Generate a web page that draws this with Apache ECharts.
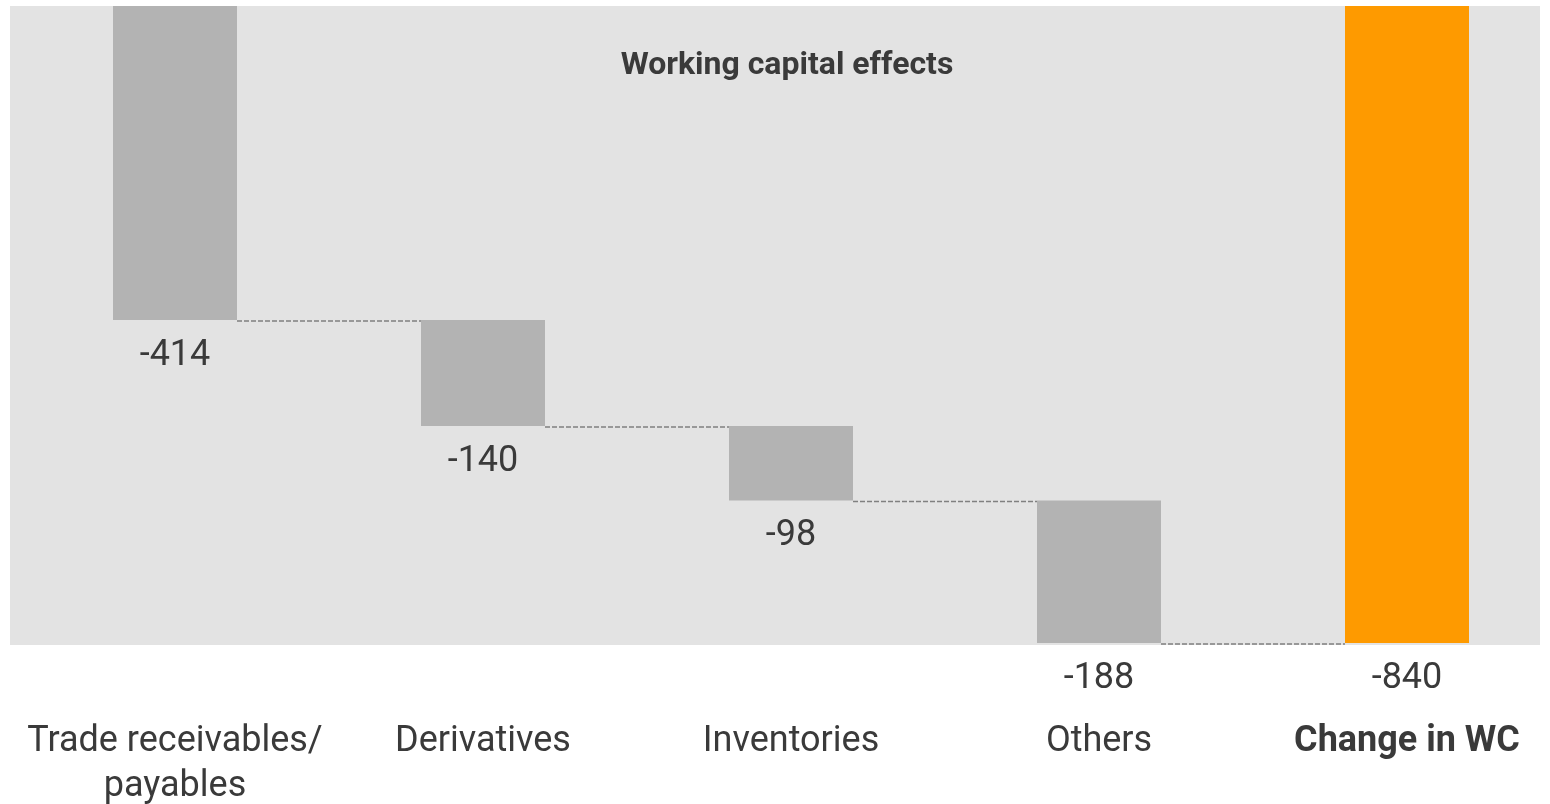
<!DOCTYPE html>
<html>
<head>
<meta charset="utf-8">
<title>Working capital effects</title>
<script src="https://cdn.jsdelivr.net/npm/echarts@6/dist/echarts.min.js"></script>
<style>
  html, body { margin: 0; padding: 0; background: #fff; }
  #myChart { width: 1550px; height: 804px; }
</style>
</head>
<body>
<div id="myChart"></div>
<script>
// data
var categories = ["Trade receivables/\npayables", "Derivatives", "Inventories", "Others", "Change in WC"];
var effects = [-414, -140, -98, -188];
var total = -840;

var BAR_W = 124;
var FONT = "Roboto, 'Noto Sans', sans-serif";
var TEXT = "#3a3a3a";

// waterfall offsets
var baseVals = [];
var stepVals = [];
var levels = [];
var run = 0;
effects.forEach(function (v) {
  baseVals.push(run);
  stepVals.push(v);
  run += v;
  levels.push(run);
});
baseVals.push(0);
stepVals.push(total);

var chart = echarts.init(document.getElementById("myChart"));

var option = {
  animation: false,
  graphic: [
    {
      type: "rect",
      left: 10,
      top: 6,
      z: -10,
      shape: { width: 1530, height: 639 },
      style: { fill: "#e3e3e3" }
    },
    {
      type: "text",
      x: 787,
      y: 66,
      style: {
        text: "Working capital effects",
        fill: TEXT,
        font: "bold 32px " + FONT,
        align: "center",
        verticalAlign: "middle"
      }
    }
  ],
  grid: {
    left: 21,
    width: 1540,
    top: 6,
    height: 637,
    containLabel: false,
    outerBoundsMode: "none"
  },
  xAxis: {
    type: "category",
    data: categories.map(function (c, i) {
      return i === categories.length - 1
        ? { value: c, textStyle: { fontWeight: "bold" } }
        : c;
    }),
    axisLine: { show: false },
    axisTick: { show: false },
    axisLabel: {
      color: TEXT,
      fontFamily: FONT,
      fontSize: 36,
      lineHeight: 45,
      margin: 76,
      interval: 0
    }
  },
  yAxis: {
    type: "value",
    min: -840,
    max: 0,
    show: false,
    splitLine: { show: false }
  },
  series: [
    {
      type: "bar",
      stack: "wf",
      data: baseVals,
      barWidth: BAR_W,
      itemStyle: { color: "transparent" },
      silent: true
    },
    {
      type: "bar",
      stack: "wf",
      barWidth: BAR_W,
      data: stepVals.map(function (v, i) {
        return {
          value: v,
          itemStyle: { color: i === stepVals.length - 1 ? "#fe9a00" : "#b3b3b3" }
        };
      }),
      label: {
        show: true,
        position: "bottom",
        distance: 18,
        color: TEXT,
        fontFamily: FONT,
        fontSize: 36
      }
    },
    {
      type: "custom",
      data: levels.map(function (l, i) { return [i, l]; }),
      z: 5,
      renderItem: function (params, api) {
        var p0 = api.coord([api.value(0), api.value(1)]);
        var p1 = api.coord([api.value(0) + 1, api.value(1)]);
        return {
          type: "line",
          shape: { x1: p0[0] + BAR_W / 2, y1: p0[1] + 1, x2: p1[0] - BAR_W / 2, y2: p1[1] + 1 },
          style: { stroke: "#808080", lineWidth: 1.5, lineDash: [5, 2] }
        };
      }
    }
  ]
};

chart.setOption(option);
window.onresize = chart.resize;
</script>
</body>
</html>
